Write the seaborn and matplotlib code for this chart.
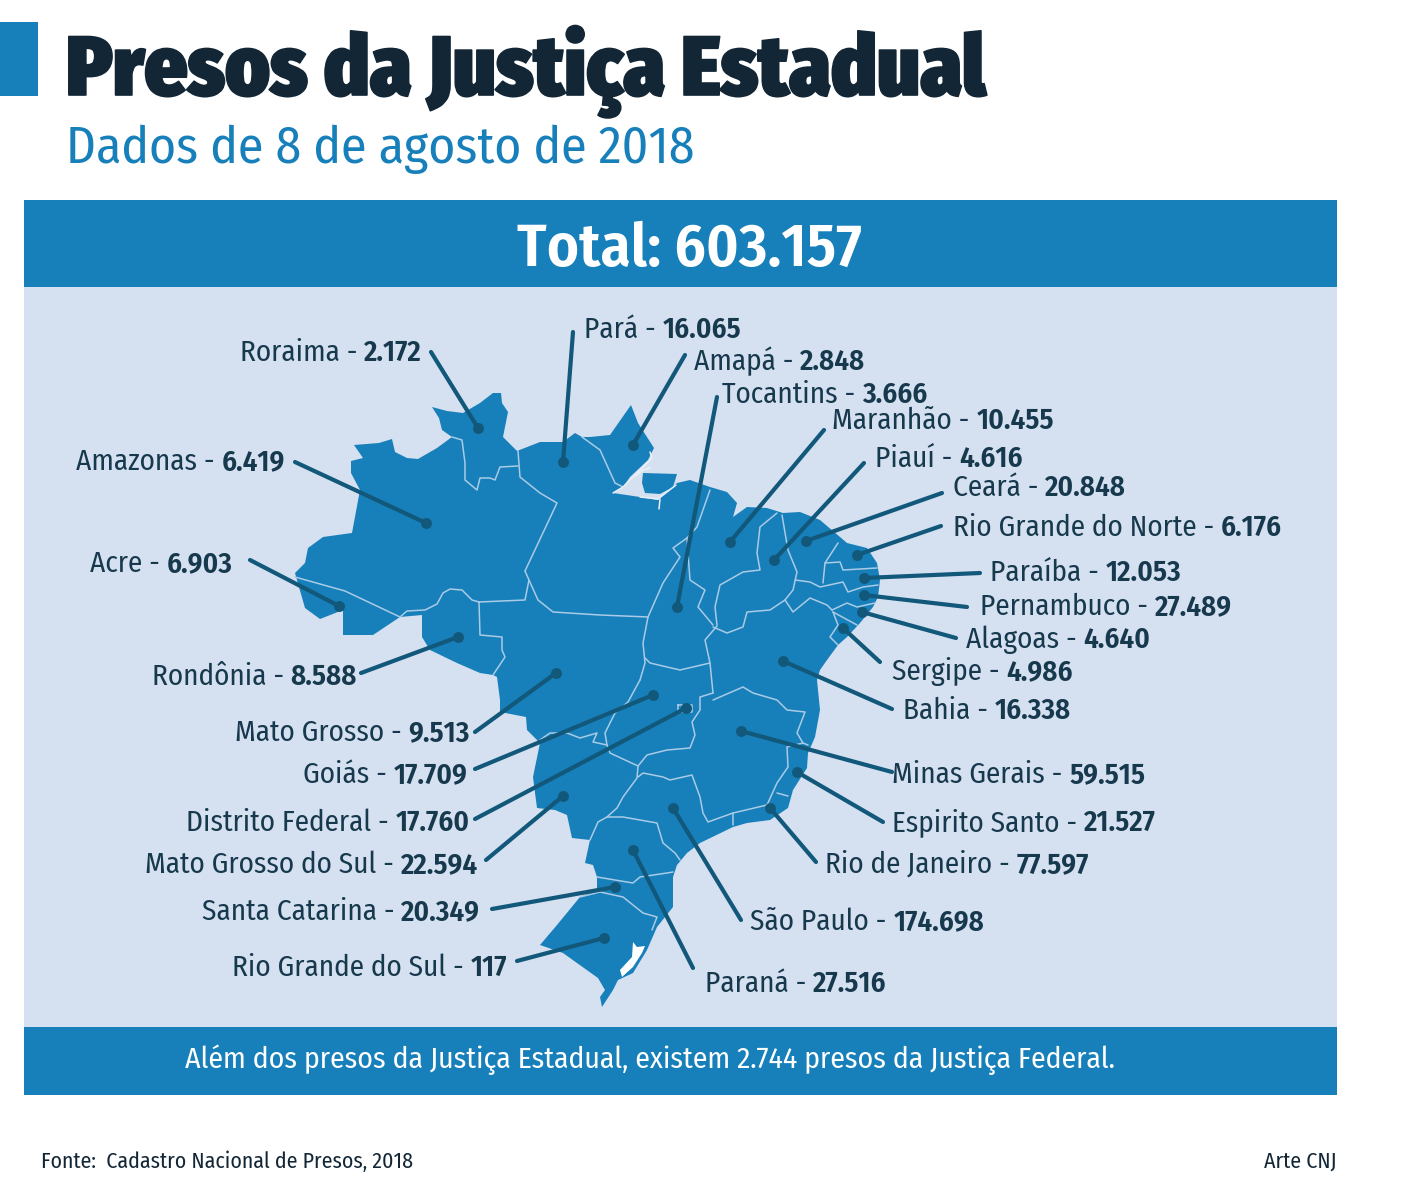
import matplotlib
matplotlib.use("Agg")
import matplotlib.pyplot as plt
import matplotlib.patheffects as pe
from matplotlib import font_manager as fm
import pandas as pd
import seaborn as sns

BLUE = "#177fba"
PANEL = "#d5e0f0"
DARK = "#122636"
LABEL = "#17394d"
LEADER = "#12587a"
BORDER = "#a9cbe6"

states = ["Roraima", "Pará", "Amapá", "Tocantins", "Maranhão", "Piauí", "Ceará",
          "Rio Grande do Norte", "Paraíba", "Pernambuco", "Alagoas", "Sergipe", "Bahia",
          "Minas Gerais", "Espirito Santo", "Rio de Janeiro", "São Paulo", "Paraná",
          "Rio Grande do Sul", "Santa Catarina", "Mato Grosso do Sul", "Distrito Federal",
          "Goiás", "Mato Grosso", "Rondônia", "Acre", "Amazonas"]
presos = [2172, 16065, 2848, 3666, 10455, 4616, 20848, 6176, 12053, 27489, 4640, 4986,
          16338, 59515, 21527, 77597, 174698, 27516, 117, 20349, 22594, 17760, 17709,
          9513, 8588, 6903, 6419]

# layout, all in pixels of the picture, same order as states
label_x = [422, 584, 694, 722, 832, 875, 953, 953, 990, 980, 966, 892, 903, 892, 892, 825,
           750, 705, 507, 480, 478, 470, 468, 470, 357, 233, 285]
label_y = [351, 328, 360, 393, 419, 457, 486, 526, 571, 605, 638, 670, 709, 773, 821, 863,
           920, 982, 966, 910, 863, 821, 773, 731, 675, 562, 460]
label_side = ["r", "l", "l", "l", "l", "l", "l", "l", "l", "l", "l", "l", "l", "l", "l", "l",
              "l", "l", "r", "r", "r", "r", "r", "r", "r", "r", "r"]
leader_x = [431, 573, 685, 717, 824, 864, 942, 941, 980, 967, 956, 880, 892, 892, 883, 816,
            741, 693, 517, 492, 486, 475, 475, 475, 361, 250, 295]
leader_y = [352, 332, 355, 397, 430, 463, 493, 526, 573, 607, 638, 662, 709, 772, 822, 862,
            920, 968, 961, 909, 860, 819, 769, 732, 673, 560, 462]
dot_x = [478, 563, 633, 677, 730, 774, 806, 857, 864, 864, 862, 843, 783, 741, 797, 770,
         673, 633, 604, 615, 563, 686, 653, 556, 458, 339, 426]
dot_y = [428, 462, 445, 607, 542, 560, 541, 555, 578, 595, 612, 628, 661, 731, 772, 808,
         808, 850, 938, 887, 796, 708, 695, 673, 637, 606, 523]

# map geometry
brasil = [(354, 445), (379, 443), (392, 439), (395, 452), (407, 458), (418, 459), (437, 448),
          (452, 437), (442, 430), (439, 418), (432, 407), (447, 411), (463, 413), (480, 403),
          (493, 393), (501, 393), (502, 403), (508, 412), (503, 437), (517, 451), (540, 442),
          (563, 442), (575, 433), (582, 437), (590, 437), (610, 435), (631, 405), (638, 423),
          (654, 448), (648, 460), (630, 477), (623, 487), (613, 493), (640, 497), (658, 500),
          (677, 483), (690, 480), (710, 487), (727, 492), (737, 503), (733, 517), (747, 507),
          (767, 508), (783, 513), (800, 512), (820, 520), (840, 537), (847, 543), (867, 548),
          (877, 563), (880, 580), (878, 597), (873, 607), (860, 623), (847, 637), (838, 645),
          (827, 660), (820, 670), (817, 680), (820, 710), (815, 737), (808, 753), (807, 768),
          (793, 790), (788, 808), (770, 820), (747, 823), (733, 827), (700, 843), (687, 853),
          (677, 865), (673, 877), (673, 907), (657, 927), (647, 950), (633, 973), (618, 980),
          (613, 990), (602, 1007), (600, 997), (605, 990), (598, 978), (577, 963), (563, 953),
          (540, 945), (557, 925), (580, 897), (597, 890), (597, 877), (593, 865), (585, 863),
          (590, 840), (572, 838), (567, 815), (555, 810), (537, 808), (533, 777), (540, 743),
          (527, 730), (526, 717), (500, 712), (500, 700), (497, 677), (493, 675), (480, 673),
          (457, 663), (430, 650), (422, 637), (422, 615), (400, 617), (373, 635), (343, 635),
          (343, 610), (320, 619), (305, 608), (295, 573), (305, 563), (308, 548), (323, 537),
          (352, 533), (360, 490), (351, 473), (351, 461), (363, 458)]
marajo = [(643, 473), (677, 474), (673, 487), (660, 494), (645, 493), (642, 483)]
lagoa = [(633, 942), (637, 947), (645, 946), (642, 953), (633, 967), (622, 977), (620, 970), (632, 957)]
delta = [[(613, 493), (623, 487), (635, 475), (652, 458), (650, 452)],
         [(640, 497), (658, 499), (676, 485)],
         [(636, 476), (643, 470), (650, 468)],
         [(660, 499), (659, 509)]]
borders = [
    [(295, 577), (345, 591), (400, 617)],
    [(400, 617), (407, 611), (425, 610), (437, 604), (443, 593), (450, 589), (462, 590),
     (472, 600), (479, 602)],
    [(479, 602), (480, 635), (502, 637), (502, 650), (505, 657), (493, 675)],
    [(479, 602), (525, 600), (529, 580), (525, 571)],
    [(525, 571), (557, 503), (540, 493), (520, 477), (518, 451)],
    [(452, 437), (462, 440), (465, 463), (465, 480), (477, 490), (480, 478), (490, 478),
     (495, 480), (500, 467), (518, 466)],
    [(529, 580), (538, 600), (553, 612), (600, 615), (648, 617)],
    [(582, 437), (600, 450), (615, 483), (623, 487)],
    [(648, 617), (643, 643), (645, 663), (640, 680)],
    [(648, 617), (663, 583), (680, 557), (673, 548), (687, 538), (697, 527), (710, 490)],
    [(687, 538), (688, 553), (690, 580), (705, 590), (698, 607), (713, 625)],
    [(777, 513), (760, 527), (757, 553), (760, 570), (743, 572), (720, 585), (715, 607),
     (717, 625)],
    [(782, 515), (788, 550), (797, 572), (793, 590), (785, 600)],
    [(713, 627), (727, 633), (743, 627), (747, 612), (770, 610), (785, 600)],
    [(717, 626), (705, 640), (710, 663), (713, 693)],
    [(645, 658), (650, 663), (667, 667), (680, 670), (710, 663)],
    [(540, 740), (550, 733), (567, 733), (580, 738), (597, 733), (593, 742), (607, 745),
     (605, 733), (615, 713), (628, 702), (640, 680)],
    [(607, 745), (610, 753), (638, 766)],
    [(638, 766), (637, 778), (623, 797), (617, 808), (607, 817), (598, 822), (590, 840)],
    [(607, 817), (623, 817), (657, 823), (663, 843), (675, 853), (680, 860)],
    [(638, 766), (647, 755), (667, 750), (690, 748), (695, 735), (692, 722), (700, 710),
     (700, 697), (713, 693)],
    [(678, 705), (692, 705), (692, 712), (678, 712), (678, 705)],
    [(638, 777), (643, 773), (663, 777), (670, 780), (692, 775), (700, 797), (703, 813),
     (708, 822), (733, 813), (767, 805)],
    [(733, 813), (733, 825)],
    [(767, 805), (777, 783), (788, 767), (787, 747), (803, 743), (808, 745)],
    [(777, 793), (788, 796)],
    [(713, 700), (743, 687), (753, 693), (777, 700), (787, 710), (805, 712), (797, 733),
     (803, 743)],
    [(597, 877), (633, 883), (640, 877), (667, 873), (673, 872)],
    [(580, 897), (600, 892), (623, 897), (643, 913), (657, 917), (652, 930)],
    [(838, 543), (825, 563), (823, 583)],
    [(825, 563), (840, 562), (843, 570), (877, 568)],
    [(795, 580), (810, 582), (820, 587), (843, 582), (848, 592), (863, 587), (878, 585)],
    [(785, 600), (793, 612), (810, 598), (827, 605), (832, 610)],
    [(832, 610), (847, 603), (857, 607), (875, 603)],
    [(833, 612), (857, 625)],
    [(833, 612), (838, 625), (830, 637), (838, 645)],
]

sns.set_theme(style="white")
# condensed face if this machine has it, otherwise Roboto set a bit smaller
has_fira = "Fira Sans Condensed" in {f.name for f in fm.fontManager.ttflist}
FONT = ["Fira Sans Condensed", "DejaVu Sans"] if has_fira else ["Roboto", "DejaVu Sans"]
SCALE = 1.0 if has_fira else 0.92
plt.rcParams["font.family"] = FONT
LABEL_SIZE = 21 * SCALE

fig = plt.figure(figsize=(14.1, 12), dpi=100, facecolor="white")
ax = fig.add_axes([0, 0, 1, 1])

# frame
ax.fill_between([0, 38], 22, 96, color=BLUE, lw=0)
ax.fill_between([24, 1337], 200, 1095, color=PANEL, lw=0)
ax.fill_between([24, 1337], 200, 287, color=BLUE, lw=0)
ax.fill_between([24, 1337], 1027, 1095, color=BLUE, lw=0)

# map
ax.fill(*zip(*brasil), color=BLUE, lw=0, zorder=2)
ax.fill(*zip(*marajo), color=BLUE, lw=0, zorder=2)
ax.fill(*zip(*lagoa), color="white", lw=0, zorder=3)
for b in borders:
    ax.plot(*zip(*b), color=BORDER, lw=1.1, zorder=3, solid_capstyle="round")
for b in delta:
    ax.plot(*zip(*b), color="#eaf0f8", lw=1.1, zorder=3)

# leaders and dots
for x0, y0, x1, y1 in zip(leader_x, leader_y, dot_x, dot_y):
    ax.plot([x0, x1], [y0, y1], color=LEADER, lw=3, zorder=4)
df = pd.DataFrame({"estado": states, "presos": presos, "x": dot_x, "y": dot_y})
sns.scatterplot(data=df, x="x", y="y", color=LEADER, s=62, linewidth=0, zorder=5, ax=ax, legend=False)
ax.set_xlim(0, 1410)
ax.set_ylim(1200, 0)
ax.axis("off")

# labels: regular name and bold number are two texts side by side
renderer = fig.canvas.get_renderer()
for name, v, x, y, side in zip(states, presos, label_x, label_y, label_side):
    num = f"{v:,}".replace(",", ".")
    yb = y + 10
    if side == "l":
        t = ax.text(x, yb, f"{name} - ", fontsize=LABEL_SIZE, color=LABEL, ha="left", va="baseline", zorder=6)
        right = ax.transData.inverted().transform(t.get_window_extent(renderer))[1][0]
        ax.text(right, yb, num, fontsize=LABEL_SIZE, fontweight=600, color=LABEL, ha="left", va="baseline", zorder=6)
    else:
        t = ax.text(x, yb, num, fontsize=LABEL_SIZE, fontweight=600, color=LABEL, ha="right", va="baseline", zorder=6)
        left = ax.transData.inverted().transform(t.get_window_extent(renderer))[0][0]
        ax.text(left, yb, f"{name} - ", fontsize=LABEL_SIZE, color=LABEL, ha="right", va="baseline", zorder=6)

# headings
title = ax.text(66, 95, "Presos da Justiça Estadual", fontsize=60.5 * SCALE, fontweight=900, color=DARK,
                ha="left", va="baseline")
title.set_path_effects([pe.withStroke(linewidth=1.2, foreground=DARK)])
ax.text(66, 163, "Dados de 8 de agosto de 2018", fontsize=37.2 * SCALE, color=BLUE, ha="left", va="baseline")
ax.text(689, 266, "Total: 603.157", fontsize=44 * SCALE, fontweight=600, color="white", ha="center", va="baseline")
ax.text(650, 1068, "Além dos presos da Justiça Estadual, existem 2.744 presos da Justiça Federal.",
        fontsize=21.4 * SCALE, color="white", ha="center", va="baseline")
ax.text(41, 1168, "Fonte:  Cadastro Nacional de Presos, 2018", fontsize=15.7 * SCALE, color=DARK, ha="left", va="baseline")
ax.text(1337, 1168, "Arte CNJ", fontsize=15.7 * SCALE, color=DARK, ha="right", va="baseline")

fig.savefig("out.png", dpi=100)
